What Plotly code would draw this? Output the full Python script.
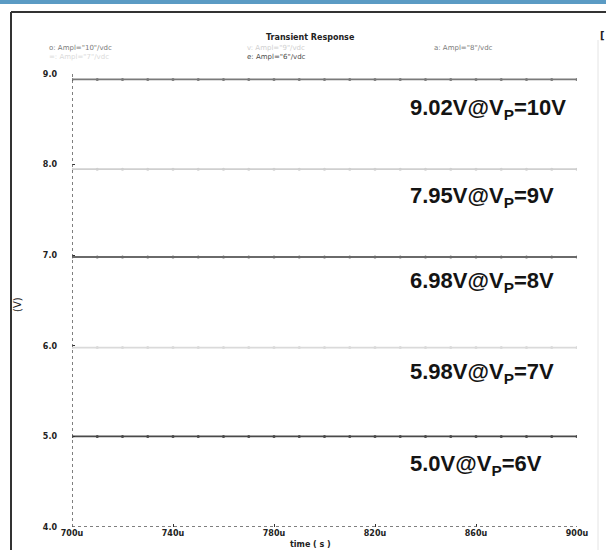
import plotly.graph_objects as go

# ---- data ----
time_us = [700, 710, 720, 730, 740, 750, 760, 770, 780, 790, 800, 810, 820, 830, 840, 850, 860, 870, 880, 890, 900]
vp_levels = ["10", "9", "8", "7", "6"]
v_out = {
    "10": [8.94] * 21,
    "9": [7.95] * 21,
    "8": [6.98] * 21,
    "7": [5.98] * 21,
    "6": [5.00] * 21,
}
labels = ["9.02V@V<sub>P</sub>=10V", "7.95V@V<sub>P</sub>=9V", "6.98V@V<sub>P</sub>=8V",
          "5.98V@V<sub>P</sub>=7V", "5.0V@V<sub>P</sub>=6V"]
label_y = [8.61, 7.64, 6.70, 5.70, 4.68]
x_ticks = [700, 740, 780, 820, 860, 900]
x_ticktext = ["700u", "740u", "780u", "820u", "860u", "900u"]
y_ticks = [4.0, 5.0, 6.0, 7.0, 8.0, 9.0]
y_ticktext = ["4.0", "5.0", "6.0", "7.0", "8.0", "9.0"]

colors = {"10": "#7a7a7a", "9": "#cfcfcf", "8": "#6a6a6a", "7": "#dadada", "6": "#4a4a4a"}

fig = go.Figure()
for lvl in vp_levels:
    fig.add_trace(go.Scatter(
        x=time_us, y=v_out[lvl], mode="lines+markers",
        line=dict(color=colors[lvl], width=1.8),
        marker=dict(size=3, color=colors[lvl]),
        showlegend=False, hoverinfo="skip"))

W, H = 606, 550
L, R, T, B = 72, 29, 74, 23
ph = H - T - B
pw = W - L - R

def py(p):
    return (H - B - p) / ph

def px(p):
    return (p - L) / pw

ann = []
for txt, yv in zip(labels, label_y):
    ann.append(dict(x=833, y=yv, xref="x", yref="y", text="<b>" + txt + "</b>",
                    showarrow=False, xanchor="left", yanchor="middle",
                    font=dict(family="Liberation Sans, Arial", size=22, color="#141414")))

ann.append(dict(x=px(310), y=py(37), xref="paper", yref="paper", text="<b>Transient Response</b>",
                showarrow=False, xanchor="center", yanchor="middle",
                font=dict(family="DejaVu Sans", size=8, color="#222")))
leg = [
    (47, 48, 'o: Ampl="10"/vdc', colors["10"]),
    (245, 48, 'v: Ampl="9"/vdc', colors["9"]),
    (432, 48, 'a: Ampl="8"/vdc', colors["10"]),
    (47, 57, '=: Ampl="7"/vdc', colors["7"]),
    (245, 57, 'e: Ampl="6"/vdc', colors["6"]),
]
for x0, y0, t, c in leg:
    ann.append(dict(x=px(x0), y=py(y0), xref="paper", yref="paper", text=t, showarrow=False,
                    xanchor="left", yanchor="middle",
                    font=dict(family="DejaVu Sans", size=7, color=c)))
ann.append(dict(x=px(310), y=py(544), xref="paper", yref="paper", text="<b>time ( s )</b>",
                showarrow=False, xanchor="center", yanchor="middle",
                font=dict(family="DejaVu Sans", size=8, color="#222")))
ann.append(dict(x=px(17), y=py(305), xref="paper", yref="paper", text="(V)", textangle=-90,
                showarrow=False, xanchor="center", yanchor="middle",
                font=dict(family="DejaVu Sans", size=10, color="#222")))
ann.append(dict(x=px(602), y=py(35), xref="paper", yref="paper", text="<b>[</b>",
                showarrow=False, xanchor="center", yanchor="middle",
                font=dict(family="DejaVu Sans", size=10, color="#222")))

shapes = [
    dict(type="rect", xref="paper", yref="paper", x0=px(0), x1=px(W), y0=py(4), y1=py(0),
         fillcolor="#5b9bc4", line=dict(width=0), layer="below"),
    dict(type="line", xref="paper", yref="paper", x0=px(11), x1=px(11), y0=py(550), y1=py(12),
         line=dict(color="#333", width=2)),
    dict(type="line", xref="paper", yref="paper", x0=px(11), x1=px(606), y0=py(12), y1=py(12),
         line=dict(color="#333", width=2)),
    dict(type="line", xref="paper", yref="paper", x0=px(598), x1=px(598), y0=py(550), y1=py(40),
         line=dict(color="#e4e4e4", width=1)),
    dict(type="line", xref="x", yref="y", x0=700, x1=700, y0=4, y1=9.05,
         line=dict(color="#555", width=1.5, dash="dot")),
    dict(type="line", xref="x", yref="y", x0=700, x1=900, y0=4, y1=4,
         line=dict(color="#555", width=1.5, dash="dot")),
]

fig.update_layout(
    width=W, height=H, margin=dict(l=L, r=R, t=T, b=B),
    paper_bgcolor="white", plot_bgcolor="white",
    xaxis=dict(range=[700, 900], tickvals=x_ticks, ticktext=["<b>" + t + "</b>" for t in x_ticktext],
               showgrid=False, zeroline=False, showline=False, ticks="inside", ticklen=3,
               tickcolor="#333", tickfont=dict(family="DejaVu Sans", size=8, color="#222")),
    yaxis=dict(range=[4.0, 9.0], tickvals=y_ticks, ticktext=["<b>" + t + "</b>" for t in y_ticktext],
               showgrid=False, zeroline=False, showline=False, ticks="inside", ticklen=3,
               tickcolor="#333", ticklabelstandoff=14,
               tickfont=dict(family="DejaVu Sans", size=8, color="#222")),
    annotations=ann, shapes=shapes,
)

fig.write_html("out.html", post_script="document.body.style.margin='0';",
               config={"displayModeBar": False})
